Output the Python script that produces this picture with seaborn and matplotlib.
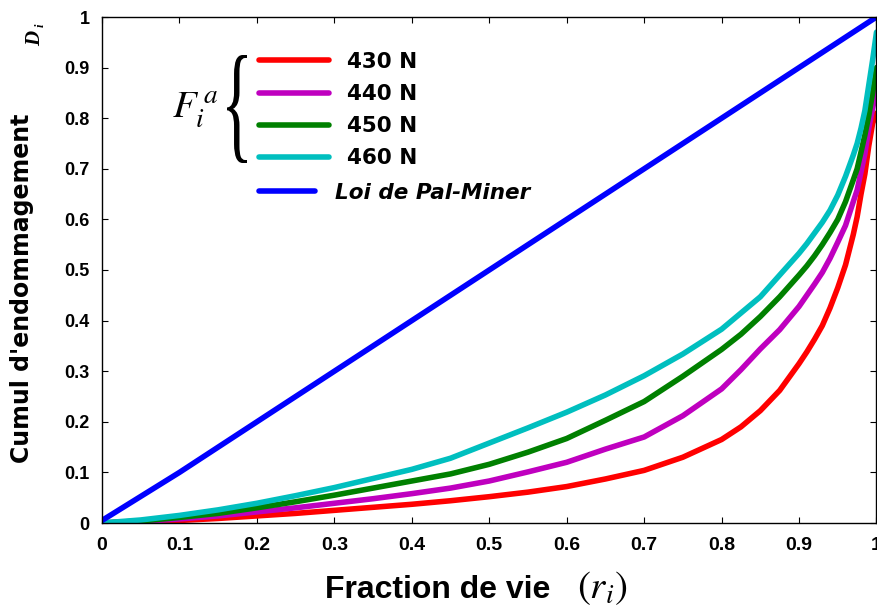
import numpy as np
import pandas as pd
import matplotlib
matplotlib.use("Agg")
import matplotlib.pyplot as plt
import seaborn as sns
from matplotlib.textpath import TextPath
from matplotlib.font_manager import FontProperties
from matplotlib.patches import PathPatch
from matplotlib.transforms import Affine2D

# ---------------- data ----------------
r = [0, 0.05, 0.1, 0.15, 0.2, 0.25, 0.3, 0.35, 0.4, 0.45, 0.5, 0.55, 0.6, 0.65,
     0.7, 0.75, 0.8, 0.825, 0.85, 0.875, 0.9, 0.91, 0.92, 0.93, 0.94, 0.95,
     0.96, 0.97, 0.975, 0.98, 0.985, 0.99, 0.995, 1.0]
d_430 = [0, 0.002, 0.005, 0.009, 0.014, 0.019, 0.025, 0.031, 0.037, 0.044, 0.052, 0.061,
         0.072, 0.087, 0.104, 0.130, 0.165, 0.190, 0.222, 0.262, 0.315, 0.338, 0.363,
         0.390, 0.425, 0.465, 0.510, 0.570, 0.605, 0.650, 0.690, 0.745, 0.790, 0.810]
d_440 = [0, 0.003, 0.008, 0.014, 0.022, 0.030, 0.039, 0.048, 0.058, 0.069, 0.083, 0.101,
         0.120, 0.146, 0.170, 0.212, 0.265, 0.303, 0.344, 0.382, 0.428, 0.450, 0.472,
         0.495, 0.523, 0.555, 0.588, 0.635, 0.658, 0.694, 0.730, 0.780, 0.820, 0.860]
d_450 = [0, 0.004, 0.011, 0.019, 0.030, 0.042, 0.055, 0.069, 0.083, 0.097, 0.116, 0.140,
         0.167, 0.203, 0.240, 0.290, 0.343, 0.373, 0.408, 0.447, 0.490, 0.508, 0.528,
         0.550, 0.574, 0.600, 0.635, 0.678, 0.700, 0.733, 0.767, 0.805, 0.850, 0.900]
d_460 = [0, 0.006, 0.015, 0.026, 0.039, 0.054, 0.070, 0.088, 0.106, 0.128, 0.158, 0.188,
         0.219, 0.253, 0.291, 0.334, 0.383, 0.415, 0.447, 0.490, 0.533, 0.552, 0.573,
         0.594, 0.618, 0.648, 0.685, 0.727, 0.750, 0.780, 0.815, 0.865, 0.915, 0.970]
r_miner = [0, 0.1, 0.2, 0.3, 0.4, 0.5, 0.6, 0.7, 0.8, 0.9, 1.0]
d_miner = [0.005, 0.1, 0.2, 0.3, 0.4, 0.5, 0.6, 0.7, 0.8, 0.9, 1.0]

series_labels = ["430 N", "440 N", "450 N", "460 N", "Loi de Pal-Miner"]
series_colors = ["#ff0000", "#bf00bf", "#008000", "#00bfbf", "#0000ff"]
x_ticks = [0, 0.1, 0.2, 0.3, 0.4, 0.5, 0.6, 0.7, 0.8, 0.9, 1]
x_ticklabels = ["0", "0.1", "0.2", "0.3", "0.4", "0.5", "0.6", "0.7", "0.8", "0.9", "1"]
y_ticks = x_ticks
y_ticklabels = x_ticklabels

frames = []
for lab, vals in zip(series_labels[:4], [d_430, d_440, d_450, d_460]):
    frames.append(pd.DataFrame({"r": r, "D": vals, "serie": lab}))
frames.append(pd.DataFrame({"r": r_miner, "D": d_miner, "serie": series_labels[4]}))
df = pd.concat(frames, ignore_index=True)

# ---------------- style ----------------
sns.set_style("ticks")
plt.rcParams["font.family"] = ["Liberation Sans", "DejaVu Sans"]
plt.rcParams["mathtext.fontset"] = "stix"
plt.rcParams["text.color"] = "black"
plt.rcParams["axes.labelcolor"] = "black"
plt.rcParams["xtick.color"] = "black"
plt.rcParams["ytick.color"] = "black"

W, H = 877, 608
fig = plt.figure(figsize=(W / 100, H / 100), dpi=100)
ax = fig.add_axes([102 / W, 1 - 523 / H, (876.5 - 102) / W, (523 - 17) / H])

palette = dict(zip(series_labels, series_colors))
sns.lineplot(data=df, x="r", y="D", hue="serie", hue_order=series_labels,
             palette=palette, estimator=None, sort=False, linewidth=4,
             legend=False, ax=ax)

ax.set_xlim(0, 1)
ax.set_ylim(0, 1)
ax.set_xticks(x_ticks)
ax.set_xticklabels(x_ticklabels, fontsize=14, fontweight="bold")
ax.set_yticks(y_ticks)
ax.set_yticklabels(y_ticklabels, fontsize=13, fontweight="bold")
ax.tick_params(direction="in", length=4, width=0.8, top=True, right=True,
               colors="black")
ax.tick_params(axis="x", pad=10)
ax.tick_params(axis="y", pad=9)
for s in ax.spines.values():
    s.set_visible(True)
    s.set_color("black")
    s.set_linewidth(1.0)
ax.set_xlabel("")
ax.set_ylabel("")

# ---------------- legends ----------------
lines = ax.get_lines()
leg1 = ax.legend(lines[:4], series_labels[:4], loc="upper left",
                 bbox_to_anchor=((259 - 102) / 775, 1 - (52 - 17) / 506),
                 frameon=False, handlelength=3.26, handletextpad=0.84,
                 labelspacing=0.56, borderpad=0, borderaxespad=0,
                 prop=FontProperties(family="DejaVu Sans", weight="bold", size=15.5))
ax.add_artist(leg1)
leg2 = ax.legend(lines[4:5], series_labels[4:5], loc="upper left",
                 bbox_to_anchor=((259 - 102) / 775, 1 - (183 - 17) / 506),
                 frameon=False, handlelength=2.6, handletextpad=0.93,
                 borderpad=0, borderaxespad=0,
                 prop=FontProperties(family="DejaVu Sans", weight="bold",
                                     style="italic", size=15.5))

# F_i^a and brace
fig.text(172, H - 110, r"$F_i^{\,a}$", fontsize=28, ha="left", va="center",
         transform=None)
tp = TextPath((0, 0), "{", size=1, prop=FontProperties(family="Liberation Serif"))
ext = tp.get_extents()
bx0, bx1, by0, by1 = 227, 247, H - 163, H - 55
tr = (Affine2D().translate(-ext.x0, -ext.y0)
      .scale((bx1 - bx0) / ext.width, (by1 - by0) / ext.height)
      .translate(bx0, by0))
fig.add_artist(PathPatch(tr.transform_path(tp), facecolor="black",
                         edgecolor="none", transform=None))

# axis labels
fig.text(22, H - 288, "Cumul d'endommagement", rotation=90, fontsize=17,
         fontweight="bold", family="DejaVu Sans", ha="center", va="center",
         transform=None)
fig.text(35, H - 38, "D", rotation=90, fontsize=15, fontweight="bold",
         fontstyle="italic", family="Liberation Serif", ha="center",
         va="center", transform=None)
fig.text(41, H - 25, "i", rotation=90, fontsize=9, fontweight="bold",
         fontstyle="italic", family="Liberation Serif", ha="center",
         va="center", transform=None)
fig.text(325, H - 598, "Fraction de vie", fontsize=23, fontweight="bold",
         ha="left", va="baseline", transform=None)
fig.text(577, H - 598, r"$(r_i)$", fontsize=28, ha="left", va="baseline",
         transform=None)

fig.savefig("out.png", dpi=100)
